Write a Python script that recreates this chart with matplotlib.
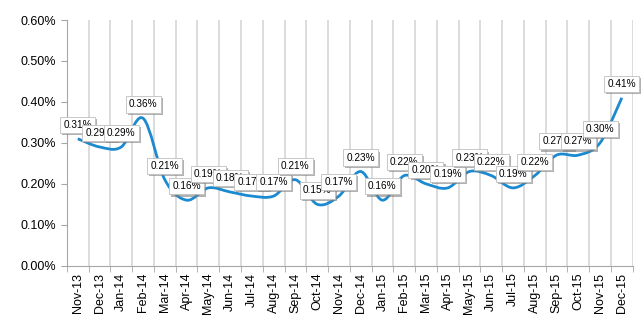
import matplotlib
matplotlib.use('Agg')
import matplotlib.pyplot as plt
import matplotlib.patheffects as pe
from matplotlib.path import Path
from matplotlib.patches import PathPatch
from matplotlib.ticker import FuncFormatter, FixedLocator
import numpy as np

# datos
months = ['Nov-13', 'Dec-13', 'Jan-14', 'Feb-14', 'Mar-14', 'Apr-14', 'May-14',
          'Jun-14', 'Jul-14', 'Aug-14', 'Sep-14', 'Oct-14', 'Nov-14', 'Dec-14',
          'Jan-15', 'Feb-15', 'Mar-15', 'Apr-15', 'May-15', 'Jun-15', 'Jul-15',
          'Aug-15', 'Sep-15', 'Oct-15', 'Nov-15', 'Dec-15']
rate = [0.31, 0.29, 0.29, 0.36, 0.21, 0.16, 0.19, 0.18, 0.17, 0.17, 0.21, 0.15,
        0.17, 0.23, 0.16, 0.22, 0.20, 0.19, 0.23, 0.22, 0.19, 0.22, 0.27, 0.27,
        0.30, 0.41]

plt.rcParams['font.family'] = ['Liberation Sans', 'DejaVu Sans']

fig = plt.figure(figsize=(6.43, 3.28), dpi=100)
ax = fig.add_axes([0.104, 0.19, 0.88, 0.749])

x = np.arange(len(months))
y = np.array(rate)

# linea suavizada tipo Excel (Bezier cubica, Catmull-Rom)
pts = np.column_stack([x, y])
verts = [pts[0]]
codes = [Path.MOVETO]
n = len(pts)
for i in range(n - 1):
    p0 = pts[i - 1] if i > 0 else pts[i]
    p1 = pts[i]
    p2 = pts[i + 1]
    p3 = pts[i + 2] if i + 2 < n else pts[i + 1]
    c1 = p1 + (p2 - p0) / 6.0
    c2 = p2 - (p3 - p1) / 6.0
    verts += [c1, c2, p2]
    codes += [Path.CURVE4] * 3
ax.add_patch(PathPatch(Path(verts, codes), facecolor='none',
                       edgecolor='#1b8ad0', lw=2.0, zorder=3))

# etiquetas con caja y sombra
for xi, yi in zip(x, y):
    t = ax.annotate(f'{yi:.2f}%', (xi, yi), xytext=(0, 10), textcoords='offset points',
                    ha='center', va='center', fontsize=7.2, zorder=5,
                    bbox=dict(boxstyle='square,pad=0.32', fc='white', ec='#bfbfbf', lw=0.6))
    t.get_bbox_patch().set_path_effects([
        pe.SimplePatchShadow(offset=(1.5, -1.5), shadow_rgbFace='#808080', alpha=0.6),
        pe.Normal()])

ax.set_xlim(-0.5, len(months) - 0.5)
ax.set_ylim(0, 0.6)
ax.set_yticks(np.arange(0, 0.61, 0.1))
ax.yaxis.set_major_formatter(FuncFormatter(lambda v, p: f'{v:.2f}%'))

ax.set_xticks(x)
ax.set_xticklabels(months, rotation=90, fontsize=9)
ax.xaxis.set_minor_locator(FixedLocator(np.arange(-0.5, len(months), 1.0)))
ax.tick_params(axis='x', which='major', length=0, pad=5)
ax.tick_params(axis='x', which='minor', length=4, color='#a6a6a6')
ax.tick_params(axis='y', labelsize=9, length=4, color='#a6a6a6')

ax.grid(True, which='minor', axis='x', color='#d9d9d9', lw=1.3)
ax.set_axisbelow(True)

for s in ['top', 'right']:
    ax.spines[s].set_visible(False)
for s in ['left', 'bottom']:
    ax.spines[s].set_color('#a6a6a6')

fig.savefig('out.png', dpi=100)
